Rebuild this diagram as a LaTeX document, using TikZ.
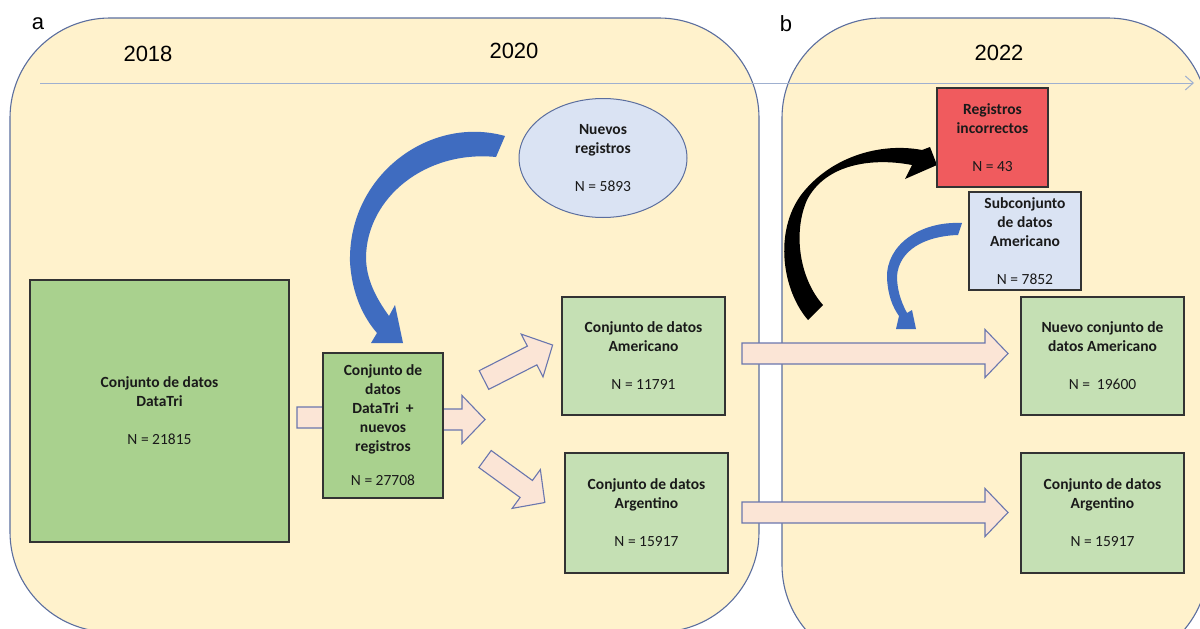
\documentclass[tikz,border=0pt]{standalone}
\usepackage{fontspec}
\setmainfont{Carlito}
\newfontfamily\arialf{Liberation Sans}
\usetikzlibrary{shapes.geometric,arrows.meta,calc}
\definecolor{panelfill}{HTML}{FFF2CC}
\definecolor{panelline}{HTML}{5B6E9E}
\definecolor{gdark}{HTML}{A9D18E}
\definecolor{glight}{HTML}{C5E0B4}
\definecolor{lblue}{HTML}{DAE3F3}
\definecolor{redbox}{HTML}{F05B5E}
\definecolor{pinkarr}{HTML}{FBE5D6}
\definecolor{arrline}{HTML}{6A76AE}
\definecolor{bluearr}{HTML}{3F6CC0}
\definecolor{tlcol}{HTML}{9FB0D0}
\definecolor{txt}{HTML}{1A1A1A}
\tikzset{
  panel/.style={draw=panelline, fill=panelfill, line width=1.1pt, rounded corners=100pt},
  box/.style={draw=black!80, line width=1.3pt, align=center, inner sep=0pt, text=txt,
    font=\bfseries\fontsize{15.5}{19}\selectfont},
  blockarrow/.style={draw=arrline, fill=pinkarr, line width=1.1pt, line join=miter},
  year/.style={font=\arialf\fontsize{22}{24}\selectfont, text=black, inner sep=0pt},
  curvedblue/.style={fill=bluearr},
}
\newcommand\blockarr[3]{%
  \begin{scope}[shift={(#1)}, rotate=#2]
    \draw[blockarrow] (0,-10.5) -- (#3-23,-10.5) -- (#3-23,-24) -- (#3,0)
      -- (#3-23,24) -- (#3-23,10.5) -- (0,10.5) -- cycle;
  \end{scope}}
\begin{document}
\begin{tikzpicture}[x=1pt,y=-1pt]
\useasboundingbox (0,0) rectangle (1200,629);
\clip (0,0) rectangle (1200,629);
% panels
\draw[panel] (10,18) rectangle (759,632);
\draw[panel] (782,18) rectangle (1208,665);
% labels
\node[year] (la) at (38,24) {a};
\node[year] (lb) at (786,24) {b};
\node[year] (y18) at (148,54) {2018};
\node[year] (y20) at (514,51) {2020};
\node[year] (y22) at (999,53) {2022};
% timeline
\coordinate (tl0) at (40,83);
\coordinate (tl1) at (1194,83);
\draw[tlcol, line width=1pt, -{Straight Barb[length=8pt,width=14pt]}] (tl0) -- (tl1);
% block arrows
\coordinate (a1) at (297,417.5);
\coordinate (a2) at (435,419.5);
\coordinate (a3) at (484,380);
\coordinate (a4) at (485,459);
\coordinate (a5) at (742,353.5);
\coordinate (a6) at (742,512.5);
\blockarr{a1}{0}{50}
\blockarr{a2}{0}{50}
\blockarr{a3}{27}{77}
\blockarr{a4}{-36}{74}
\blockarr{a5}{0}{266}
\blockarr{a6}{0}{266}
% curved arrows
\fill[curvedblue] (505,136) .. controls (430,115) and (348,175) .. (350,262)
  .. controls (352,295) and (364,318) .. (377,333) -- (371,343) -- (403,343) -- (395,305)
  -- (389,316) .. controls (376,298) and (366,279) .. (366,257)
  .. controls (367,198) and (425,150) .. (496,157) -- cycle;
\fill[black] (808,320) .. controls (782,290) and (774,232) .. (801,195)
  .. controls (830,157) and (880,142) .. (922,150) -- (930,147) -- (937,165) -- (905,179)
  -- (912,165) .. controls (870,157) and (825,165) .. (807,200)
  .. controls (793,232) and (799,278) .. (823,305) -- cycle;
\fill[curvedblue] (962,223) .. controls (920,221) and (886,245) .. (887,278)
  .. controls (888,295) and (892,306) .. (899,316) -- (896,329) -- (916,329) -- (912,310)
  -- (907,313) .. controls (900,300) and (897,288) .. (897,276)
  .. controls (899,250) and (925,236) .. (958,235) -- cycle;
% boxes
\node[box, fill=gdark, minimum width=259, minimum height=262] (dt) at (159.5,411)
  {Conjunto de datos\\DataTri\\[19pt]{\mdseries N = 21815}};
\node[box, fill=gdark, minimum width=120, minimum height=145] (dtn) at (383,425.5)
  {Conjunto de\\datos\\DataTri\ \ +\\nuevos\\registros\\[15pt]{\mdseries N = 27708}};
\node[box, ellipse, draw=panelline, line width=1pt, fill=lblue, minimum width=168, minimum height=119] (nr) at (603,158)
  {Nuevos\\registros\\[19pt]{\mdseries N = 5893}};
\node[box, fill=glight, minimum width=163, minimum height=118] (am) at (643.5,356)
  {Conjunto de datos\\Americano\\[19pt]{\mdseries N = 11791}};
\node[box, fill=glight, minimum width=163, minimum height=120] (ar) at (646.5,513)
  {Conjunto de datos\\Argentino\\[19pt]{\mdseries N = 15917}};
\node[box, fill=redbox, minimum width=111, minimum height=99] (ri) at (992.5,137.5)
  {Registros\\incorrectos\\[19pt]{\mdseries N = 43}};
\node[box, fill=lblue, minimum width=112, minimum height=98] (sa) at (1025,241)
  {Subconjunto\\de datos\\Americano\\[19pt]{\mdseries N = 7852}};
\node[box, fill=glight, minimum width=163, minimum height=118] (nam) at (1102.5,356)
  {Nuevo conjunto de\\datos Americano\\[19pt]{\mdseries N =\ \ 19600}};
\node[box, fill=glight, minimum width=163, minimum height=120] (nar) at (1102.5,513)
  {Conjunto de datos\\Argentino\\[19pt]{\mdseries N = 15917}};
\end{tikzpicture}
\end{document}
